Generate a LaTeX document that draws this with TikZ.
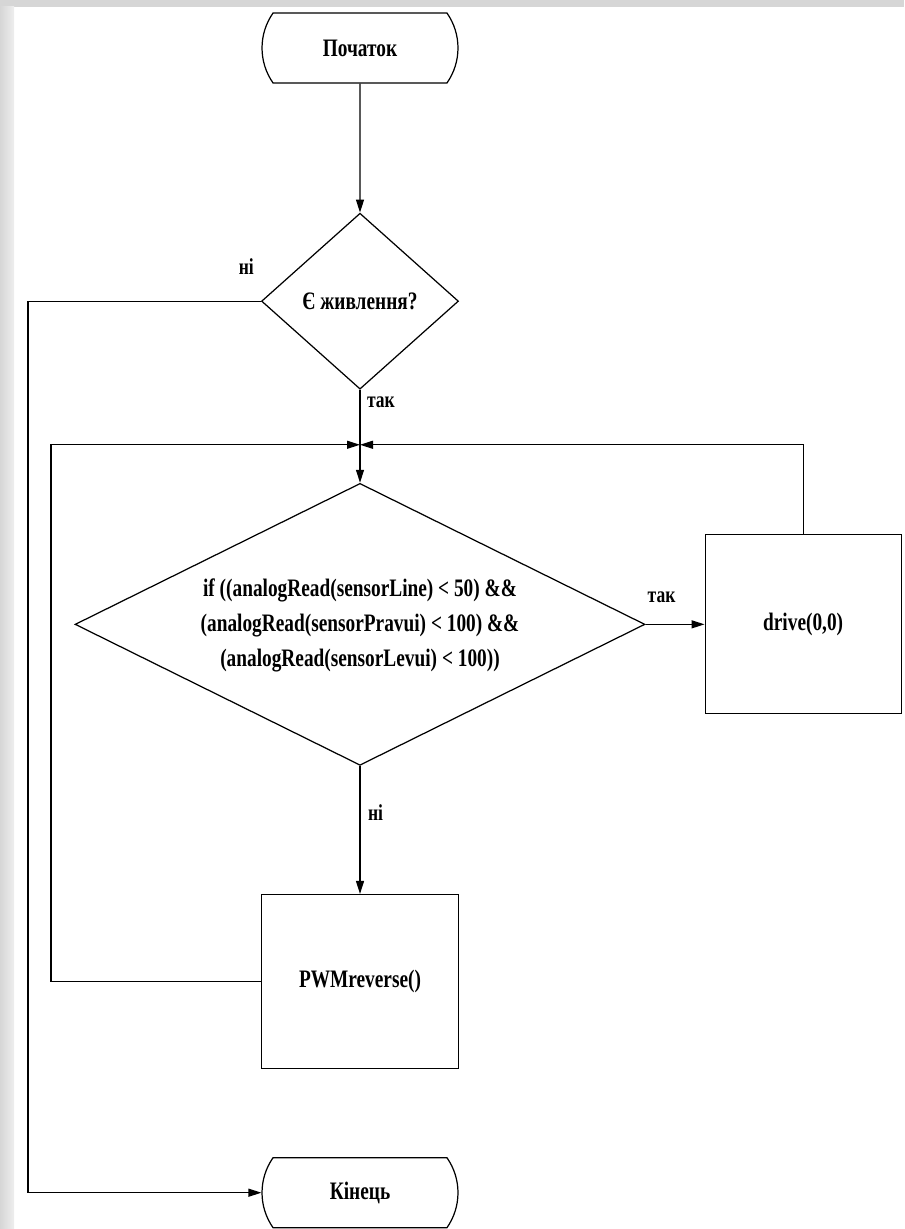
\documentclass[tikz,border=0pt]{standalone}
\usepackage{fontspec}
\setmainfont{Liberation Serif}
\usetikzlibrary{arrows.meta,positioning,shapes.geometric,shapes.misc}
\definecolor{framegray}{RGB}{214,214,214}
\definecolor{framelight}{RGB}{238,238,238}
\newcommand{\tallt}[1]{\scalebox{1}[1.3]{#1}}

\begin{document}
\begin{tikzpicture}[
    x=0.02cm, y=-0.02cm,
    every node/.style={font=\bfseries\fontsize{11}{15.3}\selectfont},
    term/.style={rounded rectangle,rounded rectangle arc length=70,draw,line width=0.7pt,
                 minimum width=3.92cm,minimum height=1.4cm,inner sep=0pt},
    decision/.style={diamond,draw,line width=0.7pt,inner sep=0pt,aspect=2},
    process/.style={rectangle,draw,line width=0.7pt,inner sep=0pt},
    lbl/.style={font=\bfseries\fontsize{10}{12}\selectfont,inner sep=1pt},
    arrow/.style={-{Triangle[length=2.6mm,width=1.6mm]},line width=0.7pt},
    line/.style={line width=0.7pt}
]
    \useasboundingbox (0,0) rectangle (904,1229);
    % frame of the screenshot
    \fill[framegray] (0,0) rectangle (904,7);
    \shade[left color=framegray,right color=framelight] (0,7) rectangle (14,1229);

    \node[term] (start) at (360,48) {\tallt{Початок}};
    \node[decision,minimum width=3.94cm,minimum height=3.52cm,below=2.58cm of start] (power) {\tallt{Є живлення?}};
    \coordinate[below=1.1cm of power] (join);
    \node[decision,minimum width=11.4cm,minimum height=5.64cm,below=1.86cm of power] (check)
        {\tallt{\begin{tabular}{@{}c@{}}
            if ((analogRead(sensorLine) < 50) \&\&\\
            (analogRead(sensorPravui) < 100) \&\&\\
            (analogRead(sensorLevui) < 100))
        \end{tabular}}};
    \node[process,minimum width=3.92cm,minimum height=3.58cm,right=1.18cm of check] (drive) {\tallt{drive(0,0)}};
    \node[process,minimum width=3.94cm,minimum height=3.48cm,below=2.56cm of check] (pwm) {\tallt{PWMreverse()}};
    \node[term,below=1.76cm of pwm] (stop) {\tallt{Кінець}};

    % labels
    \node[lbl,above left=0.5cm and 0.1cm of power.west] (noPower) {\tallt{ні}};
    \node[lbl,below right=0.1cm and 0.1cm of power.south] (yesPower) {\tallt{так}};
    \node[lbl,above right=0.4cm and 0cm of check.east] (yesCheck) {\tallt{так}};
    \node[lbl,below right=0.74cm and 0.12cm of check.south] (noCheck) {\tallt{ні}};

    % connectors
    \draw[arrow] (start) -- (power);
    \draw[line] (power) -- (join);
    \draw[arrow] (join) -- (check);
    \draw[arrow] (check) -- (drive);
    \draw[arrow] (drive.north) |- (join);
    \draw[arrow] (check) -- (pwm);
    \draw[arrow] (pwm.west) -- ++(-210,0) |- (join);
    \draw[arrow] (power.west) -- ++(-233,0) |- (stop.west);
\end{tikzpicture}
\end{document}
